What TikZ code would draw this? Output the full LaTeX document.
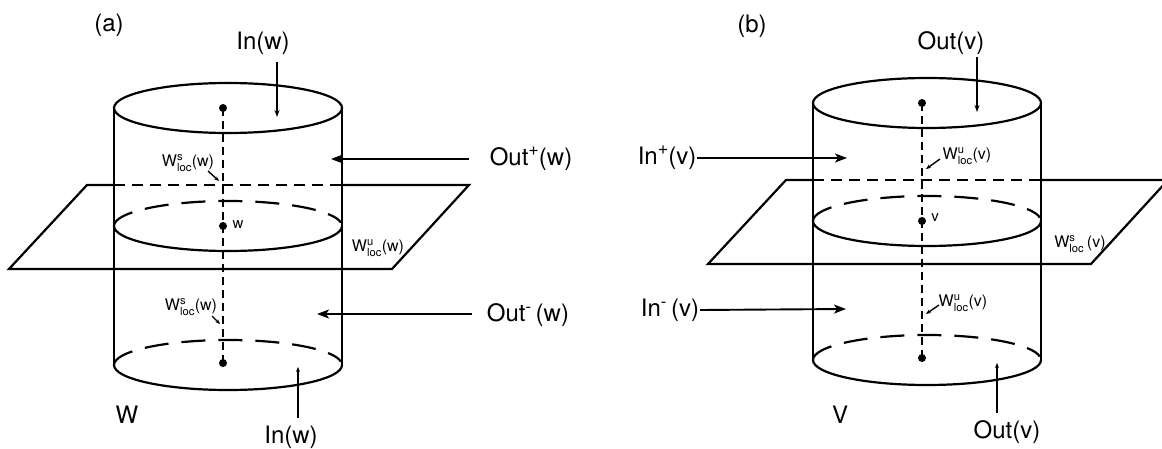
\documentclass[tikz,border=0pt]{standalone}
\usepackage{amsmath}
\usepackage{fontspec}
\setmainfont{TeX Gyre Heros}
\usetikzlibrary{arrows.meta}

\begin{document}
\begin{tikzpicture}[x=1pt,y=-1pt,line width=2.2pt,
  lbl/.style={font=\fontsize{24}{27}\selectfont,inner sep=0pt},
  sml/.style={font=\fontsize{16}{18}\selectfont,inner sep=0pt},
  tny/.style={font=\fontsize{15}{17}\selectfont,inner sep=0pt},
  axisline/.style={dash pattern=on 8pt off 5pt},
  hidden/.style={dash pattern=on 24pt off 13pt},
  planeback/.style={dash pattern=on 11pt off 7pt},
  bigarr/.style={-{Stealth[length=12pt,width=9pt,inset=3pt]},line width=1.9pt},
  smarr/.style={-{Stealth[length=7pt,width=5pt]},line width=1.6pt},
  tinyarr/.style={-{Stealth[length=5pt,width=4pt]},line width=1.4pt}]
  \useasboundingbox (0,0) rectangle (1162,449);
  \clip (0,0) rectangle (1162,449);

  % cylinder and plane, (a) then (b)
  \foreach \dx/\dy in {0/0, 699/-5}{
    \begin{scope}[shift={(\dx,\dy)}]
      \draw (228,108) ellipse [x radius=114, y radius=25];
      \draw (114,108) -- (114,365);
      \draw (342,108) -- (342,365);
      \draw (342,226) arc[start angle=0, end angle=180, x radius=114, y radius=25];
      \draw[hidden] (114,226) arc[start angle=180, end angle=352, x radius=114, y radius=25];
      \draw (342,365) arc[start angle=0, end angle=180, x radius=114, y radius=25];
      \draw[hidden] (114,365) arc[start angle=180, end angle=352, x radius=114, y radius=25];
      \draw (114,185) -- (87,185) -- (9,269) -- (392,269) -- (469,185) -- (342,185);
      \draw[planeback] (114,185) -- (342,185);
      \draw[axisline] (223,108) -- (223,363);
      \foreach \yy in {108,226,363} \fill (223,\yy) circle (4);
    \end{scope}
  }

  % labels of (a)
  \node[lbl] (capa) at (109,25) {(a)};
  \node[lbl] (inwtop) at (263,43) {In(w)};
  \coordinate (inwtoptail) at (277,62);
  \coordinate (inwtoptip) at (277,117);
  \draw[smarr] (inwtoptail) -- (inwtoptip);
  \node[lbl] (outpw) at (531,159) {Out\raisebox{0.42em}{\fontsize{18}{18}\selectfont +}(w)};
  \coordinate (outpwtail) at (469,159);
  \coordinate (outpwtip) at (331,159);
  \draw[bigarr] (outpwtail) -- (outpwtip);
  \node[lbl] (outmw) at (528,315) {Out\textsuperscript{-}\,(w)};
  \coordinate (outmwtail) at (472,314);
  \coordinate (outmwtip) at (317,314);
  \draw[bigarr] (outmwtail) -- (outmwtip);
  \node[sml] (wsup) at (188,163) {W$^{\text{s}}_{\text{loc}}$(w)};
  \coordinate (wsuptail) at (208,171);
  \coordinate (wsuptip) at (219,181);
  \draw[tinyarr] (wsuptail) -- (wsuptip);
  \node[sml] (wslo) at (191,307) {W$^{\text{s}}_{\text{loc}}$(w)};
  \coordinate (wslotail) at (212,316);
  \coordinate (wslotip) at (220,324);
  \draw[tinyarr] (wslotail) -- (wslotip);
  \node[tny] (wpt) at (238,225) {w};
  \node[sml] (wuw) at (378,248) {W$^{\text{u}}_{\text{loc}}$(w)};
  \node[lbl] (bigw) at (127,415) {W};
  \node[lbl] (inwbot) at (291,437) {In(w)};
  \coordinate (inwbottail) at (298,418);
  \coordinate (inwbottip) at (298,367);
  \draw[tinyarr] (inwbottail) -- (inwbottip);

  % labels of (b)
  \node[lbl] (capb) at (752,26) {(b)};
  \node[lbl] (outvtop) at (951,43) {Out(v)};
  \coordinate (outvtoptail) at (977,57);
  \coordinate (outvtoptip) at (977,112);
  \draw[smarr] (outvtoptail) -- (outvtoptip);
  \node[lbl] (inpv) at (667,158) {In\raisebox{0.42em}{\fontsize{18}{18}\selectfont +}(v)};
  \coordinate (inpvtip) at (847,158);
  \draw[bigarr] (inpv.east) -- (inpvtip);
  \node[lbl] (inmv) at (670,310) {In\textsuperscript{-}\,(v)};
  \coordinate (inmvtip) at (846,309);
  \draw[bigarr] (inmv.east) -- (inmvtip);
  \node[sml] (wuvup) at (967,156) {W$^{\text{u}}_{\text{loc}}$(v)};
  \coordinate (wuvuptail) at (940,159);
  \coordinate (wuvuptip) at (926,169);
  \draw[tinyarr] (wuvuptail) -- (wuvuptip);
  \node[sml] (wuvlo) at (963,303) {W$^{\text{u}}_{\text{loc}}$(v)};
  \coordinate (wuvlotail) at (939,305);
  \coordinate (wuvlotip) at (926,314);
  \draw[tinyarr] (wuvlotail) -- (wuvlotip);
  \node[tny] (vpt) at (935,218) {v};
  \node[sml] (wsv) at (1080,244) {W$^{\text{s}}_{\text{loc}}$\,(v)};
  \node[lbl] (bigv) at (840,415) {V};
  \node[lbl] (outvbot) at (1007,432) {Out(v)};
  \coordinate (outvbottail) at (997,413);
  \coordinate (outvbottip) at (997,363);
  \draw[tinyarr] (outvbottail) -- (outvbottip);
\end{tikzpicture}
\end{document}
